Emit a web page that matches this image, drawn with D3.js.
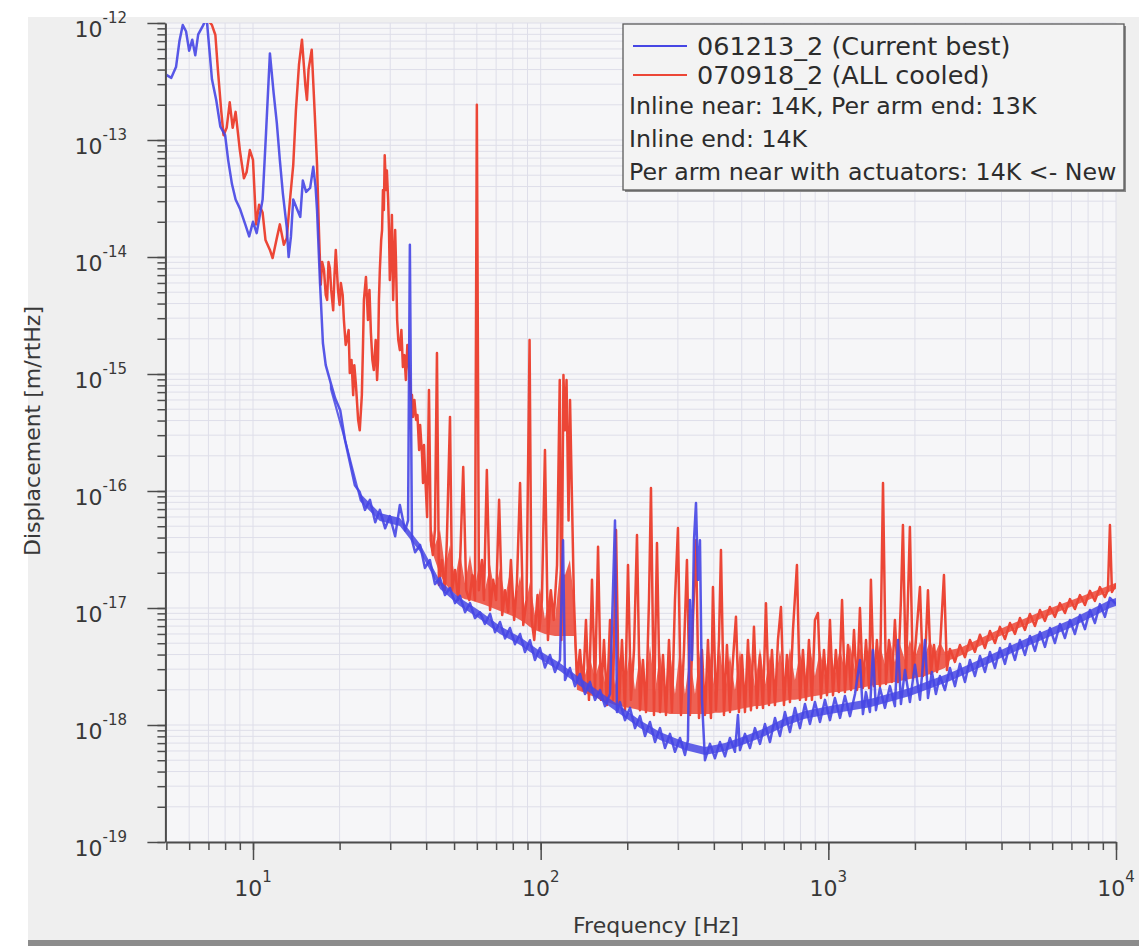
<!DOCTYPE html>
<html lang="en">
<head>
<meta charset="utf-8">
<title>Displacement noise</title>
<script src="https://d3js.org/d3.v7.min.js"></script>
<style>
  body { margin: 0; background: #fff; }
  svg { display: block; font-family: "DejaVu Sans", sans-serif; }
  .grid line { stroke: #dedee9; stroke-width: 1; }
  .axis .domain { stroke: #4c4c4c; stroke-width: 2; }
  .axis .tick line { stroke: #4c4c4c; stroke-width: 1.5; }
  .ticklabel { fill: #383838; font-size: 22px; }
  .title { fill: #383838; font-size: 22px; }
  .legend text { fill: #2c2c2c; }
</style>
</head>
<body>
<div id="chart"></div>
<script>
// ---- data ----
const xDomain = [5, 10000];
const yDomain = [1e-19, 1e-12];
const xTickExps = [1, 2, 3, 4];
const yTickExps = [-12, -13, -14, -15, -16, -17, -18, -19];

const seriesNames = ["061213_2 (Current best)", "070918_2 (ALL cooled)"];
const seriesColors = ["#4646e4", "#ec4636"];
const legendNotes = [
  "Inline near: 14K, Per arm end: 13K",
  "Inline end: 14K",
  "Per arm near with actuators: 14K <- New"
];

// 061213_2 (Current best)  [Hz, m/rtHz]
const blue = [
  [5.0,3.6e-13],[5.2,3.4e-13],[5.4,4.2e-13],[5.55,7.0e-13],[5.7,9.6e-13],[5.85,8.5e-13],[6.0,5.8e-13],
  [6.15,7.2e-13],[6.3,5.3e-13],[6.45,8.0e-13],[6.7,9.5e-13],[6.9,1.1e-12],[7.05,6.0e-13],[7.2,3.3e-13],
  [7.45,2.2e-13],[7.7,1.3e-13],[8.0,1.1e-13],[8.2,6.7e-14],[8.45,4.2e-14],[8.7,3.1e-14],[9.0,2.6e-14],
  [9.4,1.9e-14],[9.7,1.5e-14],[10.0,2.0e-14],[10.3,1.6e-14],[10.8,3.1e-14],[11.1,1.15e-13],[11.45,5.5e-13],
  [11.8,2.5e-13],[12.1,1.4e-13],[12.4,6.7e-14],[12.7,3.5e-14],[13.1,1.8e-14],[13.3,1.0e-14],[13.55,1.5e-14],
  [13.8,3.1e-14],[14.2,2.6e-14],[14.6,2.2e-14],[14.9,4.5e-14],[15.3,3.6e-14],[15.8,3.9e-14],[16.2,5.9e-14],
  [16.5,4.0e-14],[16.7,2.5e-14],[17.1,6.0e-15],[17.5,1.84e-15],[17.9,1.19e-15],[18.5,8.9e-16],[19.3,6.2e-16],
  [20.1,4.9e-16],[20.9,2.7e-16],[21.7,1.77e-16],[22.6,1.12e-16],[23.5,9.8e-17],[24.5,6.9e-17],[25.5,8.4e-17],
  [26.6,5.4e-17],[27.6,6.9e-17],[28.8,4.8e-17],[29.9,6.1e-17],[31.2,4.1e-17],[32.4,7.6e-17],[33.8,4.6e-17],
  [34.6,5.6e-17],[35.1,1.27e-14],[35.7,3.8e-17],[36.6,3.0e-17],[38.1,3.46e-17],[39.6,2.2e-17],[41.2,2.57e-17],
  [42.9,1.6e-17],[44.7,1.8e-17],[46.5,1.29e-17],[48.4,1.48e-17],[50.4,1.1e-17],[52.4,1.27e-17],[54.6,9.2e-18],
  [56.8,1.1e-17],[59.1,8.2e-18],[61.5,9.2e-18],[64.0,7.3e-18],[66.7,8.9e-18],[69.4,6.2e-18],[72.2,7.6e-18],
  [75.2,5.5e-18],[78.2,6.75e-18],[81.4,4.9e-18],[84.8,6.0e-18],[88.2,4.2e-18],[91.8,5.3e-18],[95.5,3.6e-18],
  [99.4,4.55e-18],[103.5,3.1e-18],[107.7,3.97e-18],[112.1,2.84e-18],[116.7,3.6e-18],[119.6,3.8e-17],
  [121.5,2.42e-18],[126.4,3.07e-18],[131.6,2.15e-18],[137.0,2.73e-18],[142.6,1.84e-18],[148.4,2.33e-18],
  [154.5,1.64e-18],[160.8,1.99e-18],[167.3,1.45e-18],[174.2,1.84e-18],[181.3,5.6e-17],[184.2,1.29e-18],
  [188.7,1.57e-18],[196.4,1.1e-18],[204.4,1.4e-18],[212.8,9.4e-19],[221.4,1.19e-18],[230.5,8.05e-19],
  [239.9,1.06e-18],[249.7,7.15e-19],[259.9,9.4e-19],[270.5,6.36e-19],[281.5,8.4e-19],[293.0,5.9e-19],
  [305.0,7.75e-19],[317.4,5.54e-19],[325.1,7.44e-19],[330.4,1.17e-17],[335.7,3.6e-18],[341.2,3.8e-17],
  [346.7,7.9e-17],[352.3,1.74e-17],[357.9,3.8e-17],[363.7,1.64e-18],[372.5,5.0e-19],[387.7,6.9e-19],
  [403.6,5.2e-19],[420.0,7.15e-19],[437.2,5.4e-19],[455.0,7.75e-19],[473.6,5.9e-19],[485.1,1.22e-18],
  [492.9,6.1e-19],[513.1,8.4e-19],[534.0,6.36e-19],[555.8,9.4e-19],[578.5,6.9e-19],[602.1,1.02e-18],
  [626.7,7.15e-19],[652.3,1.15e-18],[678.9,8.05e-19],[706.6,1.29e-18],[735.5,8.7e-19],[765.5,1.4e-18],
  [796.7,9.4e-19],[829.3,1.51e-18],[863.1,1.02e-18],[898.4,1.57e-18],[935.1,1.06e-18],[973.3,1.64e-18],
  [1013,1.1e-18],[1054,1.7e-18],[1098,1.15e-18],[1142,1.77e-18],[1189,1.19e-18],[1238,1.84e-18],
  [1288,3.6e-18],[1319,1.24e-18],[1351,1.91e-18],[1395,1.29e-18],[1429,4.38e-18],[1464,1.34e-18],
  [1512,2.07e-18],[1573,1.4e-18],[1637,2.15e-18],[1704,1.45e-18],[1746,5.33e-18],[1788,1.51e-18],
  [1846,2.95e-18],[1921,1.57e-18],[2000,3.27e-18],[2082,1.64e-18],[2167,5.33e-18],[2220,1.7e-18],
  [2291,2.84e-18],[2366,1.84e-18],[2443,2.62e-18],[2543,1.99e-18],[2647,3.07e-18],[2755,2.15e-18],
  [2867,3.33e-18],[2985,2.33e-18],[3106,3.6e-18],[3233,2.62e-18],[3365,3.89e-18],[3503,2.84e-18],
  [3646,4.21e-18],[3795,3.07e-18],[3950,4.55e-18],[4111,3.33e-18],[4279,4.93e-18],[4454,3.6e-18],
  [4635,5.33e-18],[4825,3.97e-18],[5022,5.77e-18],[5227,4.3e-18],[5440,6.24e-18],[5662,4.65e-18],
  [5893,6.75e-18],[6134,5.02e-18],[6384,7.3e-18],[6645,5.54e-18],[6916,7.9e-18],[7198,6.0e-18],
  [7492,8.7e-18],[7798,6.6e-18],[8116,9.6e-18],[8447,7.44e-18],[8792,1.08e-17],[9151,8.4e-18],
  [9526,1.22e-17],[10000,1.08e-17]
];

// dense noise core of the blue trace  [Hz, lower, upper]
const blueBand = [
  [18.5,7.44e-16,8.7e-16],[20.9,2.52e-16,2.95e-16],[23.5,8.21e-17,9.61e-17],[27.6,5.54e-17,6.49e-17],
  [32.4,5.02e-17,5.88e-17],[38.1,3.01e-17,3.53e-17],[44.7,1.45e-17,1.7e-17],[52.4,1.04e-17,1.22e-17],
  [61.5,8.05e-18,9.42e-18],[72.2,6.0e-18,7.02e-18],[84.8,4.83e-18,5.65e-18],[99.4,3.67e-18,4.3e-18],
  [116.7,2.9e-18,3.39e-18],[137.0,2.15e-18,2.52e-18],[160.8,1.64e-18,1.91e-18],[188.7,1.24e-18,1.45e-18],
  [221.4,9.42e-19,1.1e-18],[259.9,7.44e-19,8.7e-19],[317.4,6.11e-19,7.15e-19],[372.5,5.54e-19,6.49e-19],
  [437.2,6.0e-19,7.02e-19],[513.1,6.88e-19,8.05e-19],[602.1,8.05e-19,9.42e-19],[706.6,9.8e-19,1.15e-18],
  [829.3,1.13e-18,1.32e-18],[1013,1.24e-18,1.45e-18],[1395,1.42e-18,1.67e-18],[1921,1.77e-18,2.07e-18],
  [2647,2.38e-18,2.78e-18],[3646,3.39e-18,3.97e-18],[5022,4.83e-18,5.65e-18],[6916,6.75e-18,7.9e-18],
  [9526,1.0e-17,1.17e-17],[10000,1.04e-17,1.22e-17]
];

// 070918_2 (ALL cooled)  [Hz, m/rtHz]
const red = [
  [6.8,1.5e-12],[7.0,1.05e-12],[7.2,9.6e-13],[7.4,7.9e-13],[7.55,4.0e-13],[7.75,1.8e-13],[7.9,1.1e-13],
  [8.1,1.27e-13],[8.3,2.1e-13],[8.5,1.27e-13],[8.7,1.74e-13],[9.0,8.2e-14],[9.3,4.7e-14],[9.5,5.3e-14],
  [9.75,8.2e-14],[10.0,6.75e-14],[10.25,1.9e-14],[10.5,2.8e-14],[10.8,2.4e-14],[11.05,1.4e-14],
  [11.45,1.15e-14],[11.7,9.8e-15],[12.1,1.45e-14],[12.4,1.9e-14],[12.8,1.27e-14],[13.1,1.45e-14],
  [13.45,3.1e-14],[13.8,6.1e-14],[14.1,1.8e-13],[14.45,4.4e-13],[14.8,7.2e-13],[15.2,2.95e-13],
  [15.4,2.2e-13],[15.6,4.0e-13],[16.0,5.9e-13],[16.4,1.64e-13],[16.7,6.1e-14],[16.95,1.7e-14],
  [17.2,5.8e-15],[17.4,9.06e-15],[17.65,7.75e-15],[17.9,4.74e-15],[18.1,4.3e-15],[18.3,9.06e-15],
  [18.5,8.0e-15],[18.7,5.23e-15],[19.0,3.5e-15],[19.2,7.02e-15],[19.4,1.15e-14],[19.75,5.2e-15],
  [20.0,3.89e-15],[20.2,6.0e-15],[20.5,4.74e-15],[20.7,2.9e-15],[21.0,1.77e-15],[21.2,1.95e-15],
  [21.5,2.38e-15],[21.7,1.02e-15],[22.0,1.32e-15],[22.3,6.6e-16],[22.5,1.19e-15],[22.8,8.0e-16],
  [23.2,4.05e-16],[23.5,3.3e-16],[23.9,6.6e-16],[24.1,1.6e-15],[24.3,4.3e-15],[24.7,6.75e-15],
  [25.1,2.9e-15],[25.4,5.23e-15],[25.7,2.24e-15],[26.0,1.32e-15],[26.3,1.08e-15],[26.7,1.95e-15],
  [27.0,8.9e-16],[27.2,1.32e-15],[27.4,4.3e-15],[27.6,7.74e-15],[27.9,1.4e-14],[28.1,1.7e-14],
  [28.3,3.74e-14],[28.5,2.52e-14],[28.7,7.4e-14],[29.0,3.74e-14],[29.2,5.5e-14],[29.5,3.07e-14],
  [29.7,1.7e-14],[29.9,6.36e-15],[30.2,1.15e-14],[30.4,2.29e-14],[30.7,4.3e-15],[30.9,7.74e-15],
  [31.2,1.7e-14],[31.4,9.42e-15],[31.7,2.9e-15],[32.0,1.95e-15],[32.4,1.6e-15],[32.8,2.38e-15],
  [33.2,1.15e-15],[33.6,1.45e-15],[34.0,8.9e-16],[34.4,1.77e-15],[34.9,1.08e-15],[35.5,6.0e-16],
  [35.7,6.62e-16],[36.0,4.3e-16],[36.4,6.0e-16],[36.9,4.05e-16],[37.3,4.46e-16],[37.8,2.24e-16],
  [38.1,3.67e-16],[38.4,2.73e-16],[38.7,2.03e-16],[39.0,1.17e-16],[39.3,2.47e-16],[39.6,1.51e-16],
  [39.9,1.02e-16],[40.3,6.0e-17],[40.9,7.3e-16],[41.5,3.8e-17],[42.2,2.84e-17],[42.9,4.65e-17],
  [43.6,1.51e-15],[44.3,1.57e-17],[45.3,2.57e-17],[46.5,1.42e-17],[47.2,3.8e-17],[48.4,4.3e-16],
  [49.2,1.42e-17],[50.4,2.11e-17],[51.7,1.17e-17],[52.5,2.57e-17],[53.8,1.6e-16],[55.1,1.42e-17],
  [56.5,1.17e-17],[57.9,1.91e-17],[59.1,1.17e-17],[60.0,2.0e-13],[61.0,1.42e-17],[62.5,2.57e-17],
  [63.5,1.17e-17],[65.0,1.51e-16],[66.7,9.6e-18],[68.4,1.74e-17],[70.0,1.17e-17],[71.7,8.4e-17],
  [73.5,8.7e-18],[75.2,1.42e-17],[77.1,9.2e-18],[78.8,2.57e-17],[80.9,7.9e-18],[82.7,1.64e-17],
  [84.8,1.17e-16],[87.0,7.15e-18],[89.3,1.17e-17],[91.5,1.95e-15],[93.0,7.9e-18],[95.0,5.33e-18],
  [97.5,1.29e-17],[99.0,6.5e-18],[101,1.17e-17],[103.5,2.24e-16],[106,5.33e-18],[108.5,1.42e-17],
  [111,7.9e-18],[114,2.33e-17],[116.5,8.9e-16],[118,5.33e-18],[120,9.8e-16],[121.5,3.3e-16],
  [123,8.9e-16],[125,5.6e-17],[126.5,6.0e-16],[130.5,1.17e-17],[133.7,2.42e-18],[137.0,4.38e-18],
  [140.3,1.99e-18],[143.7,7.9e-18],[147.2,1.64e-18],[150.8,1.74e-17],[154.5,1.99e-18],[158.3,3.33e-17],
  [162.1,1.64e-18],[166.0,5.33e-18],[170.0,1.48e-18],[174.2,7.9e-18],[178.4,1.64e-18],[182.8,4.65e-17],
  [187.2,1.48e-18],[191.7,5.33e-18],[196.4,1.34e-18],[201.2,2.33e-17],[206.0,1.64e-18],[211.1,4.38e-18],
  [216.2,4.21e-17],[221.4,1.34e-18],[226.8,3.6e-18],[232.4,1.29e-18],[238.0,1.17e-17],[241.8,1.06e-16],
  [247.7,1.22e-18],[253.7,3.6e-17],[259.9,1.29e-18],[266.2,3.97e-18],[272.7,1.22e-18],[279.3,5.33e-18],
  [286.0,1.29e-18],[293.0,1.17e-17],[300.1,4.83e-17],[307.4,1.22e-18],[314.9,4.38e-18],[322.5,2.57e-17],
  [330.4,1.22e-18],[338.4,7.9e-18],[346.7,3.8e-17],[355.1,1.15e-18],[363.7,4.38e-18],[372.5,1.22e-18],
  [381.6,5.33e-18],[390.8,1.15e-18],[397.1,1.51e-17],[406.8,1.34e-18],[416.8,5.33e-18],[423.4,3.13e-17],
  [433.7,1.22e-18],[444.2,4.83e-18],[455.0,1.29e-18],[466.1,3.6e-18],[477.4,8.4e-18],[489.0,1.29e-18],
  [500.8,3.97e-18],[513.1,1.29e-18],[525.6,5.33e-18],[538.3,1.34e-18],[551.4,6.9e-18],[564.8,1.4e-18],
  [578.5,3.97e-18],[592.6,1.4e-18],[606.9,1.1e-17],[621.7,1.48e-18],[636.8,4.38e-18],[652.3,1.48e-18],
  [668.2,5.33e-18],[684.4,1.02e-17],[701.0,1.48e-18],[718.0,3.97e-18],[735.5,1.57e-18],[753.4,6.49e-18],
  [777.8,2.33e-17],[796.7,1.64e-18],[816.1,4.38e-18],[836.0,1.64e-18],[856.3,5.33e-18],[877.0,1.64e-18],
  [898.4,7.9e-18],[920.2,9.06e-18],[942.6,1.7e-18],[965.6,4.38e-18],[989.0,1.8e-18],[1013,7.9e-18],
  [1038,1.8e-18],[1062,4.38e-18],[1088,1.91e-18],[1116,1.17e-17],[1142,1.91e-18],[1170,4.83e-18],
  [1199,1.99e-18],[1228,6.49e-18],[1258,1.99e-18],[1288,1.0e-17],[1319,2.07e-18],[1352,5.33e-18],
  [1385,2.07e-18],[1406,1.74e-17],[1440,2.15e-18],[1475,5.33e-18],[1512,2.15e-18],[1549,1.17e-16],
  [1586,2.24e-18],[1624,5.33e-18],[1663,2.33e-18],[1704,7.9e-18],[1745,2.33e-18],[1788,1.17e-17],
  [1817,5.12e-17],[1861,2.42e-18],[1891,1.17e-17],[1921,4.93e-17],[1968,2.52e-18],[2016,5.33e-18],
  [2082,1.51e-17],[2133,2.62e-18],[2184,5.33e-18],[2220,1.42e-17],[2273,2.73e-18],[2329,4.83e-18],
  [2385,2.84e-18],[2443,4.38e-18],[2523,1.91e-17],[2584,2.95e-18],[2647,4.47e-18],[2755,3.46e-18],
  [2867,4.83e-18],[2985,3.8e-18],[3106,5.33e-18],[3233,4.21e-18],[3365,5.9e-18],[3503,4.55e-18],
  [3646,6.36e-18],[3795,5.02e-18],[3950,6.9e-18],[4111,5.43e-18],[4279,7.44e-18],[4454,6.0e-18],
  [4635,8.21e-18],[4825,6.49e-18],[5022,8.89e-18],[5227,7.02e-18],[5440,9.61e-18],[5662,7.75e-18],
  [5893,1.02e-17],[6134,8.4e-18],[6384,1.1e-17],[6645,9.06e-18],[6916,1.19e-17],[7198,9.8e-18],
  [7492,1.29e-17],[7798,1.06e-17],[8116,1.4e-17],[8447,1.15e-17],[8792,1.51e-17],[9151,1.24e-17],
  [9373,1.42e-17],[9526,5.12e-17],[9680,1.37e-17],[10000,1.6e-17]
];

// dense noise mass of the red trace  [Hz, lower, upper]
const redBand = [
  [41.2,3.46e-17,5.65e-17],[42.9,2.57e-17,3.46e-17],[44.7,1.91e-17,4.65e-17],[46.5,1.64e-17,2.2e-17],
  [48.4,1.42e-17,3.46e-17],[50.4,1.32e-17,1.77e-17],[52.4,1.24e-17,3.01e-17],[54.6,1.19e-17,1.6e-17],
  [56.8,1.17e-17,2.84e-17],[59.1,1.13e-17,1.51e-17],[61.5,1.1e-17,2.57e-17],[64.0,1.06e-17,1.42e-17],
  [66.7,1.02e-17,2.33e-17],[69.4,9.8e-18,1.32e-17],[72.2,9.42e-18,2.2e-17],[75.2,9.06e-18,1.22e-17],
  [78.2,8.71e-18,2.03e-17],[81.4,8.38e-18,1.13e-17],[84.8,7.9e-18,1.88e-17],[88.2,7.44e-18,1.0e-17],
  [91.8,6.88e-18,1.67e-17],[95.5,6.49e-18,8.71e-18],[99.4,6.24e-18,1.48e-17],[103.5,6.0e-18,8.05e-18],
  [107.7,5.88e-18,1.42e-17],[112.1,5.77e-18,7.9e-18],[116.7,5.77e-18,2.11e-17],[121.5,5.77e-18,1.91e-17],
  [126.4,5.77e-18,2.57e-17],[130.5,5.77e-18,1.17e-17],[133.7,2.0e-18,2.5e-18],
  [137.0,1.95e-18,3.97e-18],[142.6,1.88e-18,2.68e-18],[148.4,1.8e-18,3.74e-18],[154.5,1.74e-18,2.52e-18],
  [160.8,1.64e-18,3.59e-18],[167.3,1.57e-18,2.33e-18],[174.2,1.54e-18,4.38e-18],[181.3,1.48e-18,2.2e-18],
  [188.7,1.45e-18,3.89e-18],[196.4,1.42e-18,2.07e-18],[204.4,1.4e-18,4.55e-18],[212.8,1.37e-18,1.99e-18],
  [221.4,1.34e-18,3.97e-18],[230.5,1.32e-18,1.99e-18],[239.9,1.29e-18,4.83e-18],[249.7,1.29e-18,1.91e-18],
  [259.9,1.27e-18,4.21e-18],[270.5,1.27e-18,1.91e-18],[281.5,1.24e-18,4.38e-18],[293.0,1.24e-18,1.84e-18],
  [305.0,1.24e-18,4.55e-18],[317.4,1.24e-18,1.84e-18],[330.4,1.24e-18,3.97e-18],[343.9,1.24e-18,1.84e-18],
  [357.9,1.24e-18,4.38e-18],[372.5,1.24e-18,1.84e-18],[387.7,1.24e-18,4.21e-18],[403.6,1.27e-18,1.91e-18],
  [420.0,1.27e-18,4.55e-18],[437.2,1.29e-18,1.91e-18],[455.0,1.32e-18,3.97e-18],[473.6,1.34e-18,1.99e-18],
  [492.9,1.37e-18,4.38e-18],[513.1,1.4e-18,2.07e-18],[534.0,1.42e-18,4.21e-18],[555.8,1.45e-18,2.15e-18],
  [578.5,1.45e-18,4.55e-18],[602.1,1.48e-18,2.2e-18],[626.7,1.51e-18,3.97e-18],[652.3,1.54e-18,2.24e-18],
  [678.9,1.57e-18,4.38e-18],[706.6,1.6e-18,2.33e-18],[735.5,1.64e-18,4.55e-18],[765.5,1.64e-18,2.42e-18],
  [796.7,1.67e-18,4.21e-18],[829.3,1.7e-18,2.52e-18],[863.1,1.74e-18,4.73e-18],[898.4,1.77e-18,2.62e-18],
  [935.1,1.8e-18,4.38e-18],[973.3,1.84e-18,2.68e-18],[1013,1.88e-18,4.83e-18],[1054,1.91e-18,2.73e-18],
  [1098,1.91e-18,4.55e-18],[1142,1.95e-18,2.84e-18],[1189,1.99e-18,4.92e-18],[1238,2.03e-18,2.95e-18],
  [1288,2.07e-18,4.73e-18],[1341,2.11e-18,3.07e-18],[1395,2.15e-18,5.12e-18],[1452,2.2e-18,3.19e-18],
  [1512,2.2e-18,4.83e-18],[1573,2.24e-18,3.32e-18],[1637,2.29e-18,5.33e-18],[1704,2.33e-18,3.46e-18],
  [1774,2.38e-18,4.92e-18],[1846,2.42e-18,3.59e-18],[1921,2.47e-18,5.33e-18],[2000,2.52e-18,3.74e-18],
  [2082,2.57e-18,5.12e-18],[2167,2.62e-18,3.89e-18],[2255,2.73e-18,5.33e-18],[2347,2.84e-18,4.05e-18],
  [2443,2.95e-18,5.12e-18],[2543,3.07e-18,4.21e-18],[2647,3.59e-18,4.38e-18],[2867,3.89e-18,4.55e-18],
  [3950,5.77e-18,6.62e-18],[5440,8.05e-18,9.24e-18],[7492,1.1e-17,1.24e-17],[10000,1.45e-17,1.64e-17]
];

// ---- layout ----
const width = 1139;
const height = 946;
const plotLeft = 166.4, plotRight = 1116, plotTop = 23, plotBottom = 842;

const svg = d3.select("#chart")
    .append("svg")
    .attr("width", width)
    .attr("height", height);

// grey panel and the bar at the bottom
svg.append("rect").attr("x", 28).attr("y", 17)
    .attr("width", width - 28).attr("height", 923).attr("fill", "#efefef");
svg.append("rect").attr("x", 28).attr("y", 940)
    .attr("width", width - 28).attr("height", 6).attr("fill", "#8c8c8c");

const x = d3.scaleLog().domain(xDomain).range([plotLeft, plotRight]);
const y = d3.scaleLog().domain(yDomain).range([plotBottom, plotTop]);

svg.append("rect")
    .attr("x", plotLeft).attr("y", plotTop)
    .attr("width", plotRight - plotLeft).attr("height", plotBottom - plotTop)
    .attr("fill", "#f6f6f8");

// grid at every 1..9 step
const xMinor = x.ticks();
const yMinor = y.ticks();
const grid = svg.append("g").attr("class", "grid");
grid.selectAll("line.v").data(xMinor).join("line")
    .attr("class", "v")
    .attr("x1", d => x(d)).attr("x2", d => x(d))
    .attr("y1", plotTop).attr("y2", plotBottom);
grid.selectAll("line.h").data(yMinor).join("line")
    .attr("class", "h")
    .attr("x1", plotLeft).attr("x2", plotRight)
    .attr("y1", d => y(d)).attr("y2", d => y(d));

// spectra
svg.append("clipPath").attr("id", "plotclip")
  .append("rect")
    .attr("x", plotLeft).attr("y", plotTop)
    .attr("width", plotRight - plotLeft).attr("height", plotBottom - plotTop);

const line = d3.line().x(d => x(d[0])).y(d => y(d[1]));
const band = d3.area().x(d => x(d[0])).y0(d => y(d[1])).y1(d => y(d[2]));
const plot = svg.append("g").attr("clip-path", "url(#plotclip)");

plot.append("path").datum(redBand)
    .attr("d", band)
    .attr("fill", seriesColors[1])
    .attr("fill-opacity", 0.85);
plot.append("path").datum(red)
    .attr("d", line)
    .attr("fill", "none")
    .attr("stroke", seriesColors[1])
    .attr("stroke-width", 2.5)
    .attr("stroke-linejoin", "round");

plot.append("path").datum(blueBand)
    .attr("d", band)
    .attr("fill", seriesColors[0])
    .attr("fill-opacity", 0.85);
plot.append("path").datum(blue)
    .attr("d", line)
    .attr("fill", "none")
    .attr("stroke", seriesColors[0])
    .attr("stroke-width", 2.5)
    .attr("stroke-opacity", 0.9)
    .attr("stroke-linejoin", "round");

// axes
const xMajor = xTickExps.map(e => Math.pow(10, e));
const yMajor = yTickExps.map(e => Math.pow(10, e));

svg.append("g").attr("class", "axis")
    .attr("transform", "translate(0," + plotBottom + ")")
    .call(d3.axisBottom(x).tickValues(xMinor).tickSize(8).tickSizeOuter(0).tickFormat(""));
svg.append("g").attr("class", "axis")
    .attr("transform", "translate(0," + plotBottom + ")")
    .call(d3.axisBottom(x).tickValues(xMajor).tickSize(18).tickSizeOuter(0).tickFormat(""))
    .call(g => g.select(".domain").remove());

svg.append("g").attr("class", "axis")
    .attr("transform", "translate(" + (plotLeft - 1) + ",0)")
    .call(d3.axisLeft(y).tickValues(yMinor).tickSize(8).tickSizeOuter(0).tickFormat(""));
svg.append("g").attr("class", "axis")
    .attr("transform", "translate(" + (plotLeft - 1) + ",0)")
    .call(d3.axisLeft(y).tickValues(yMajor).tickSize(18).tickSizeOuter(0).tickFormat(""))
    .call(g => g.select(".domain").remove());

// tick labels as 10 with superscript
svg.append("g").selectAll("text").data(yTickExps).join("text")
    .attr("class", "ticklabel")
    .attr("x", 127)
    .attr("y", d => y(Math.pow(10, d)) + 14)
    .attr("text-anchor", "end")
    .call(t => {
        t.append("tspan").text("10");
        t.append("tspan").attr("dy", -14).attr("font-size", 15).text(d => d);
    });

svg.append("g").selectAll("text").data(xTickExps).join("text")
    .attr("class", "ticklabel")
    .attr("x", d => x(Math.pow(10, d)))
    .attr("y", 896)
    .attr("text-anchor", "middle")
    .call(t => {
        t.append("tspan").text("10");
        t.append("tspan").attr("dy", -14).attr("font-size", 15).text(d => d);
    });

// axis titles
svg.append("text").attr("class", "title")
    .attr("x", 656).attr("y", 933)
    .attr("text-anchor", "middle")
    .text("Frequency [Hz]");

svg.append("text").attr("class", "title")
    .attr("transform", "translate(40,431) rotate(-90)")
    .attr("text-anchor", "middle")
    .attr("font-size", 24.5)
    .text("Displacement [m/rtHz]");

// legend
const legend = svg.append("g").attr("class", "legend");
legend.append("rect")
    .attr("x", 625).attr("y", 26).attr("width", 501).attr("height", 166)
    .attr("fill", "#8a8a8a");
legend.append("rect")
    .attr("x", 623).attr("y", 24).attr("width", 501).attr("height", 166)
    .attr("fill", "#f3f3f3").attr("stroke", "#5a5a5a").attr("stroke-width", 1.3);

const entry = legend.selectAll("g.entry").data(seriesNames).join("g")
    .attr("class", "entry")
    .attr("transform", (d, i) => "translate(0," + (46 + i * 29) + ")");
entry.append("line")
    .attr("x1", 633).attr("x2", 687)
    .attr("stroke", (d, i) => seriesColors[i])
    .attr("stroke-width", 2);
entry.append("text")
    .attr("x", 697).attr("y", 9)
    .attr("font-size", 25.5)
    .text(d => d);

legend.selectAll("text.note").data(legendNotes).join("text")
    .attr("class", "note")
    .attr("x", 629)
    .attr("y", (d, i) => 114 + i * 33)
    .attr("font-size", 23.7)
    .text(d => d);
</script>
</body>
</html>
